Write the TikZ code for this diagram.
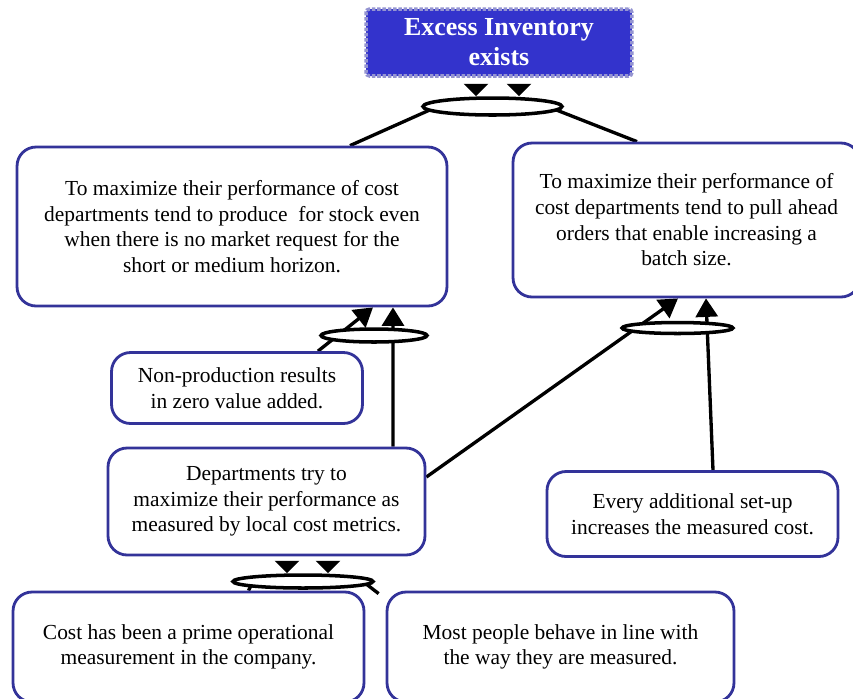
\documentclass[tikz,border=0pt]{standalone}
\usepackage{fontspec}
\setmainfont{Liberation Serif}
\usepackage{tikz}
\usetikzlibrary{arrows.meta,shapes.geometric,backgrounds}
\definecolor{edgeblue}{RGB}{51,51,153}
\definecolor{fillblue}{RGB}{51,51,204}
\newcommand{\boxfont}{\fontsize{12.2}{14.6}\selectfont}
\newcommand{\headfont}{\fontsize{14.8}{17}\selectfont\bfseries}

\begin{document}
\begin{tikzpicture}[x=0.02cm, y=-0.02cm,
  ent/.style={draw=edgeblue,line width=1.6pt,rounded corners=0.38cm,fill=white,align=center,font=\boxfont,inner sep=0pt},
  goal/.style={draw=gray!60!blue!60,densely dotted,line width=2pt,rounded corners=2pt,fill=fillblue,text=white,align=center,font=\headfont,minimum width=5.32cm,minimum height=1.34cm},
  andl/.style={draw,ellipse,line width=2pt,fill=white,inner sep=0pt},
  ln/.style={line width=1.9pt},
  arrdn/.style={ln,-{Triangle[width=0.48cm,length=0.25cm]}},
  arrup/.style={ln,-{Triangle[width=0.44cm,length=0.37cm]}}]
\useasboundingbox (0,0) rectangle (853,698);
% entities
\node[goal] (excess) at (499,42.5) {Excess Inventory\\exists};
\node[ent,minimum width=8.6cm,minimum height=3.18cm] (stock) at (232,226.5) {To maximize their performance of cost\\departments tend to produce\ \ for stock even\\when there is no market request for the\\short or medium horizon.};
\node[ent,minimum width=6.94cm,minimum height=3.08cm] (batch) at (686.5,220) {To maximize their performance of\\cost departments tend to pull ahead\\orders that enable increasing a\\batch size.};
\node[ent,minimum width=5.02cm,minimum height=1.42cm] (nonprod) at (237,388) {Non-production results\\in zero value added.};
\node[ent,minimum width=6.34cm,minimum height=2.14cm] (dept) at (266.5,501.5) {Departments try to\\maximize their performance as\\measured by local cost metrics.};
\node[ent,minimum width=5.82cm,minimum height=1.7cm] (setup) at (692.5,514) {Every additional set-up\\increases the measured cost.};
\node[ent,minimum width=7.02cm,minimum height=2.2cm] (prime) at (188.5,647) {Cost has been a prime operational\\measurement in the company.};
\node[ent,minimum width=6.94cm,minimum height=2.2cm] (people) at (560.5,647) {Most people behave in line with\\the way they are measured.};
% and-connectors
\node[andl,minimum width=2.78cm,minimum height=0.34cm] (and1) at (492.5,106.5) {};
\node[andl,minimum width=2.12cm,minimum height=0.26cm] (and2) at (374,335.5) {};
\node[andl,minimum width=2.22cm,minimum height=0.22cm] (and3) at (677.5,328) {};
\node[andl,minimum width=2.8cm,minimum height=0.26cm] (and4) at (303,581.5) {};
\begin{scope}[on background layer]
% top level
\draw[ln] ([xshift=2.36cm]stock.north) -- ([xshift=-1.1cm]and1.center);
\draw[ln] ([xshift=-0.99cm]batch.north) -- ([xshift=1.1cm]and1.center);
\foreach \a in {-0.46,0.4} \draw[arrdn,shorten <=0.2cm] ([xshift=\a cm]excess.south) coordinate (s) -- (s |- and1.north);
% middle level
\draw[arrup] ([xshift=1.62cm]nonprod.north) -- ([xshift=2.82cm]stock.south);
\draw[arrup] ([xshift=2.53cm]dept.north) -- ([xshift=3.22cm]stock.south);
\draw[arrup] ([yshift=0.49cm]dept.east) -- ([xshift=-0.17cm]batch.south);
\draw[arrup] ([xshift=0.41cm]setup.north) -- ([xshift=0.39cm]batch.south);
% bottom level
\draw[ln] ([xshift=1.2cm]prime.north) -- ([xshift=-1cm]and4.center);
\draw[ln] ([xshift=1.2cm]and4.center) -- ([xshift=-0.14cm,yshift=-0.06cm]people.north west);
\foreach \a in {0.41,1.23} \draw[arrdn,shorten <=0.15cm] ([xshift=\a cm]dept.south) coordinate (s) -- (s |- and4.north);
\end{scope}
\end{tikzpicture}
\end{document}
